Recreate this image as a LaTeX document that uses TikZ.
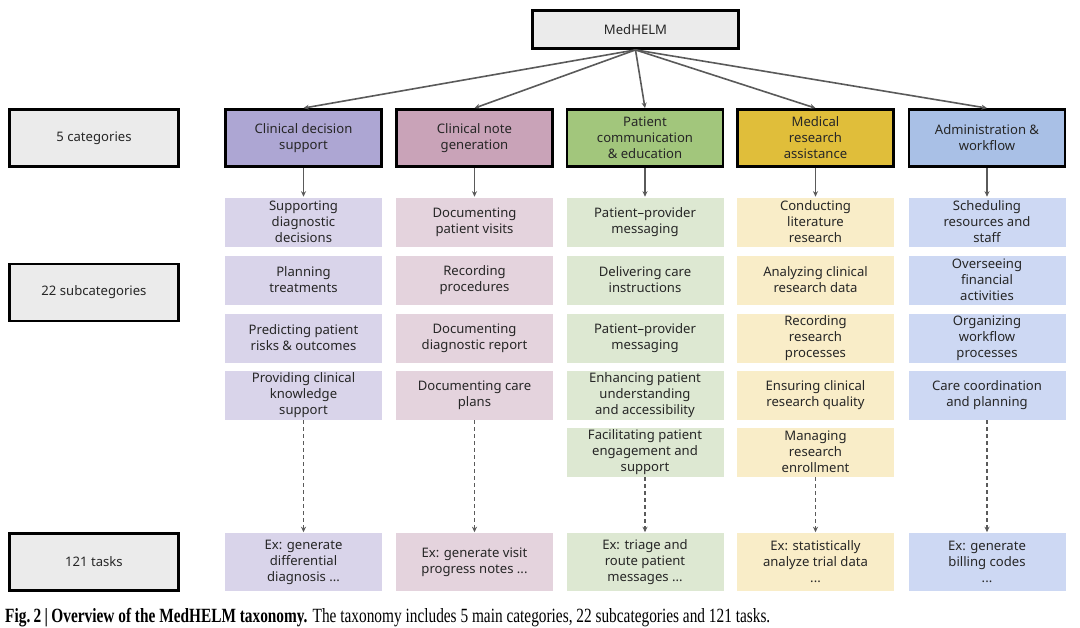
\documentclass[tikz,border=0pt]{standalone}
\usepackage{fontspec}
\setmainfont{Noto Sans}
\newfontfamily\capfont[FakeStretch=0.76]{Liberation Serif}
\usetikzlibrary{arrows.meta}
\definecolor{lgray}{HTML}{EBEBEB}
\definecolor{txt}{HTML}{262626}
\definecolor{agray}{HTML}{5A5A5A}
\definecolor{cdsC}{HTML}{ADA6D3}
\definecolor{cdsS}{HTML}{D9D4EA}
\definecolor{cngC}{HTML}{C9A3B8}
\definecolor{cngS}{HTML}{E4D3DD}
\definecolor{pceC}{HTML}{A2C67C}
\definecolor{pceS}{HTML}{DDE8D2}
\definecolor{mraC}{HTML}{E0BE3A}
\definecolor{mraS}{HTML}{F9EDC8}
\definecolor{awC}{HTML}{A9C0E6}
\definecolor{awS}{HTML}{CDD8F3}
\newcommand\boxfont{\fontsize{13.1}{16}\selectfont}
\begin{document}
\begin{tikzpicture}[x=1pt,y=-1pt,
  base/.style={align=center, inner sep=0pt, font=\boxfont, text=txt},
  lblbox/.style={base, fill=lgray, draw=black, line width=2.8pt, minimum width=169, minimum height=57},
  medbox/.style={base, fill=lgray, draw=black, line width=2.8pt, minimum width=206, minimum height=38},
  catbox/.style={base, draw=black, line width=2.8pt, minimum width=156, minimum height=57},
  subbox/.style={base, draw=white, line width=0.6pt, minimum width=158, minimum height=50},
  taskbox/.style={base, draw=white, line width=0.6pt, minimum width=158, minimum height=59},
  arr/.style={draw=agray, line width=1.6pt, -{Stealth[length=5.5pt,width=5pt]}},
  darr/.style={arr, line width=1.4pt, dash pattern=on 4pt off 3pt}]
\useasboundingbox (0,0) rectangle (1080,628);
\fill[white] (0,0) rectangle (1080,628);

% top
\node[medbox] (med) at (635.5,29.5) {MedHELM};

% row labels
\node[lblbox] (l1) at (94,138) {5 categories};
\node[lblbox] (l2) at (94,292.5) {22 subcategories};
\node[lblbox] (l3) at (94,562) {121 tasks};

% categories
\node[catbox, fill=cdsC] (c1) at (303.5,138) {Clinical decision\\support};
\node[catbox, fill=cngC] (c2) at (474.5,138) {Clinical note\\generation};
\node[catbox, fill=pceC] (c3) at (645,138) {Patient\\communication\\\& education};
\node[catbox, fill=mraC] (c4) at (815.5,138) {Medical\\research\\assistance};
\node[catbox, fill=awC] (c5) at (987,138) {Administration \&\\workflow};

% subcategories column 1
\node[subbox, fill=cdsS] (s11) at (303.5,222) {Supporting\\diagnostic\\decisions};
\node[subbox, fill=cdsS] (s12) at (303.5,280) {Planning\\treatments};
\node[subbox, fill=cdsS] (s13) at (303.5,338) {Predicting patient\\risks \& outcomes};
\node[subbox, fill=cdsS] (s14) at (303.5,395) {Providing clinical\\knowledge\\support};
% column 2
\node[subbox, fill=cngS] (s21) at (474.5,222) {Documenting\\patient visits};
\node[subbox, fill=cngS] (s22) at (474.5,280) {Recording\\procedures};
\node[subbox, fill=cngS] (s23) at (474.5,338) {Documenting\\diagnostic report};
\node[subbox, fill=cngS] (s24) at (474.5,395) {Documenting care\\plans};
% column 3
\node[subbox, fill=pceS] (s31) at (645,222) {Patient–provider\\messaging};
\node[subbox, fill=pceS] (s32) at (645,280) {Delivering care\\instructions};
\node[subbox, fill=pceS] (s33) at (645,338) {Patient–provider\\messaging};
\node[subbox, fill=pceS] (s34) at (645,395) {Enhancing patient\\understanding\\and accessibility};
\node[subbox, fill=pceS] (s35) at (645,452) {Facilitating patient\\engagement and\\support};
% column 4
\node[subbox, fill=mraS] (s41) at (815.5,222) {Conducting\\literature\\research};
\node[subbox, fill=mraS] (s42) at (815.5,280) {Analyzing clinical\\research data};
\node[subbox, fill=mraS] (s43) at (815.5,338) {Recording\\research\\processes};
\node[subbox, fill=mraS] (s44) at (815.5,395) {Ensuring clinical\\research quality};
\node[subbox, fill=mraS] (s45) at (815.5,452) {Managing\\research\\enrollment};
% column 5
\node[subbox, fill=awS] (s51) at (987,222) {Scheduling\\resources and\\staff};
\node[subbox, fill=awS] (s52) at (987,280) {Overseeing\\financial\\activities};
\node[subbox, fill=awS] (s53) at (987,338) {Organizing\\workflow\\processes};
\node[subbox, fill=awS] (s54) at (987,395) {Care coordination\\and planning};

% tasks
\node[taskbox, fill=cdsS] (t1) at (303.5,562) {Ex: generate\\differential\\diagnosis ...};
\node[taskbox, fill=cngS] (t2) at (474.5,562) {Ex: generate visit\\progress notes ...};
\node[taskbox, fill=pceS] (t3) at (645,562) {Ex: triage and\\route patient\\messages ...};
\node[taskbox, fill=mraS] (t4) at (815.5,562) {Ex: statistically\\analyze trial data\\...};
\node[taskbox, fill=awS] (t5) at (987,562) {Ex: generate\\billing codes\\...};

% connectors
\foreach \i in {1,...,5} {
  \draw[arr] (med.south) -- (c\i.north);
}
\draw[arr] (c1.south) -- (s11.north);
\draw[arr] (c2.south) -- (s21.north);
\draw[arr] (c3.south) -- (s31.north);
\draw[arr] (c4.south) -- (s41.north);
\draw[arr] (c5.south) -- (s51.north);
\draw[darr] (s14.south) -- (t1.north);
\draw[darr] (s24.south) -- (t2.north);
\draw[darr] (s35.south) -- (t3.north);
\draw[darr] (s45.south) -- (t4.north);
\draw[darr] (s54.south) -- (t5.north);

% caption
\node[anchor=base west, inner sep=0pt] (cap) at (5,622) {\resizebox{765pt}{!}{\capfont\fontsize{15}{17}\selectfont\textbf{Fig.\,2\,|\,Overview of the MedHELM taxonomy.} The taxonomy includes 5 main categories, 22 subcategories and 121 tasks.}};
\end{tikzpicture}
\end{document}
